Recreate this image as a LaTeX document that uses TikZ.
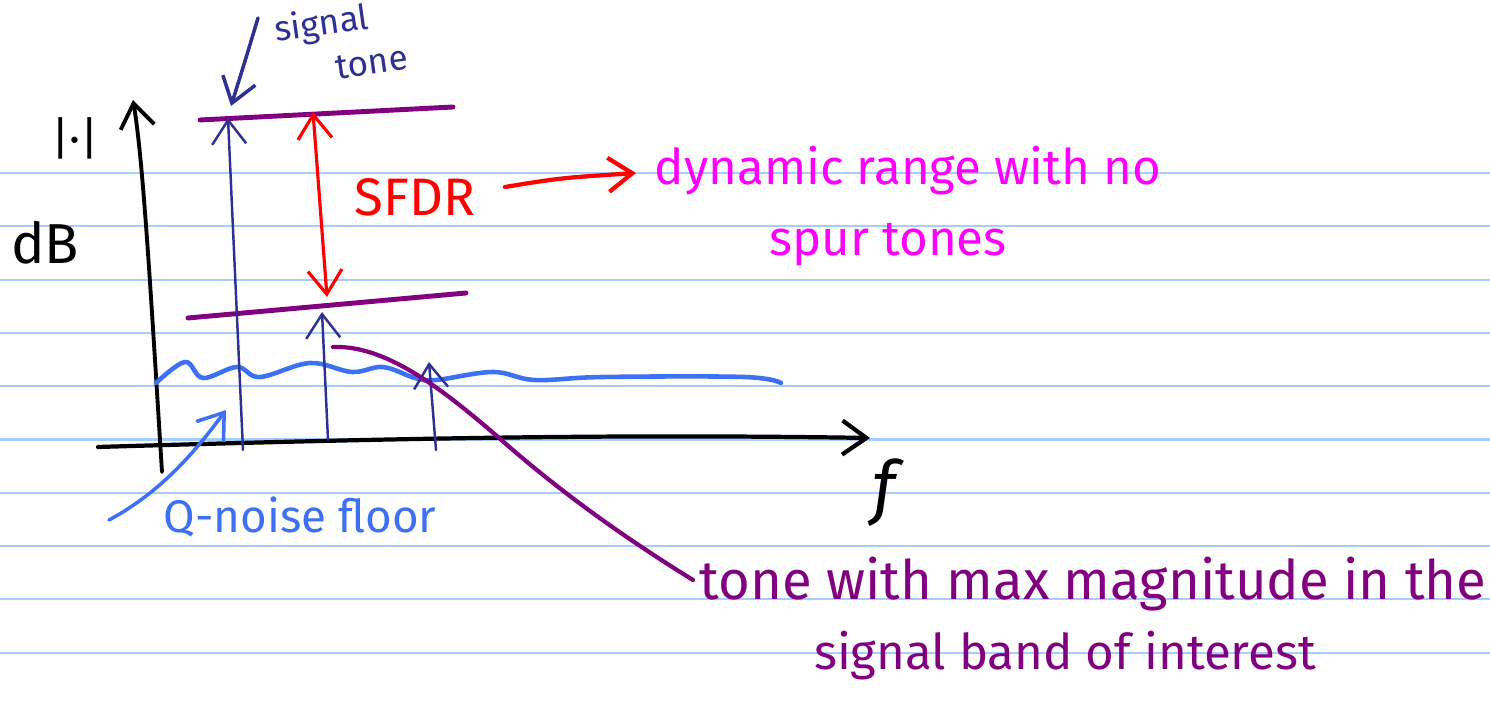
\documentclass[tikz,border=0pt]{standalone}
\usepackage{fontspec}
\setmainfont{Fira Sans}
\usetikzlibrary{arrows.meta}
\definecolor{ruleblue}{RGB}{165,205,255}
\definecolor{navyink}{RGB}{46,48,146}
\definecolor{plum}{RGB}{128,0,128}
\definecolor{noiseblue}{RGB}{60,112,245}
\definecolor{pinkink}{RGB}{255,0,255}

\begin{document}
\begin{tikzpicture}[x=0.01cm,y=-0.01cm,>={Straight Barb[length=2.4mm,width=3.4mm]},
  ink/.style={line cap=round,line join=round},
  hand/.style={inner sep=0pt,anchor=base,font=\fontsize{14}{16}\selectfont}]
  \useasboundingbox (0,0) rectangle (1490,704);
  \foreach \r in {0,...,9}
    \draw[ruleblue,line width=0.6pt] (0,{173+53.3*\r})--(1490,{173+53.3*\r});
  \coordinate (yb) at (162,472);
  \coordinate (yt) at (133,100);
  \coordinate (xl) at (98,447);
  \coordinate (xr) at (870,438);
  \draw[->,ink,line width=1.1pt] (yb) .. controls (150,280) and (143,160) .. (yt);
  \draw[->,ink,line width=1.2pt] (xl) .. controls (400,438) and (620,434) .. (xr);
  \node[hand,font=\fontsize{20}{22}\selectfont\itshape] (flbl) at (884,512) {f};
  \node[hand,font=\fontsize{13}{15}\selectfont] (maglbl) at (75,155) {|·|};
  \node[hand,font=\fontsize{16}{18}\selectfont] (dblbl) at (45,264) {dB};
  \coordinate (topl) at (200,120);
  \coordinate (topr) at (453,107);
  \coordinate (lowl) at (188,318);
  \coordinate (lowr) at (466,293);
  \draw[plum,ink,line width=1.4pt] (topl)--(topr);
  \draw[plum,ink,line width=1.4pt] (lowl)--(lowr);
  \draw[noiseblue,ink,line width=1.3pt] plot[smooth,tension=0.6] coordinates
    {(156,383) (185,362) (203,378) (237,367) (260,377) (310,363) (352,372) (383,367)
     (415,378) (436,380) (493,372) (535,380) (603,377) (744,377) (781,383)};
  \coordinate (s1b) at (243,450); \coordinate (s1t) at (228,118);
  \coordinate (s2b) at (328,440); \coordinate (s2t) at (322,312);
  \coordinate (s3b) at (436,450); \coordinate (s3t) at (429,362);
  \draw[->,navyink,ink,line width=0.7pt] (s1b)--(s1t);
  \draw[->,navyink,ink,line width=0.7pt] (s2b)--(s2t);
  \draw[->,navyink,ink,line width=0.7pt] (s3b)--(s3t);
  \node[hand,navyink,font=\fontsize{10}{13}\selectfont,align=left,anchor=north west,rotate=8]
    (tonelbl) at (272,14) {signal\\\hspace*{5.5mm}tone};
  \coordinate (ptr) at (231,106);
  \draw[->,navyink,ink,line width=1pt] (258,18) .. controls (246,58) .. (ptr);
  \coordinate (rtop) at (313,112);
  \coordinate (rbot) at (327,297);
  \draw[<->,red,ink,line width=0.9pt] (rtop)--(rbot);
  \node[hand,red,font=\fontsize{15}{17}\selectfont] (sfdr) at (415,216) {SFDR};
  \coordinate (sfdrr) at (505,187);
  \coordinate (dynl) at (636,173);
  \draw[->,red,ink,line width=1.2pt] (sfdrr) .. controls (560,178) .. (dynl);
  \node[hand,pinkink] (dyn1) at (908,185) {dynamic range with no};
  \node[hand,pinkink] (dyn2) at (888,256) {spur tones};
  \coordinate (qstart) at (109,520);
  \coordinate (qtip) at (226,410);
  \draw[->,noiseblue,ink,line width=1pt] (qstart) .. controls (165,490) and (200,445) .. (qtip);
  \node[hand,noiseblue,font=\fontsize{13}{15}\selectfont] (qlbl) at (300,533) {Q-noise floor};
  \coordinate (pc0) at (333,347);
  \coordinate (pc1) at (693,580);
  \draw[plum,ink,line width=1.2pt] (pc0) .. controls (385,345) and (440,387) .. (498,437)
    .. controls (560,492) and (625,538) .. (pc1);
  \node[hand,plum,font=\fontsize{15.5}{17}\selectfont] (max1) at (1093,600) {tone with max magnitude in the};
  \node[hand,plum] (max2) at (1065,670) {signal band of interest};
\end{tikzpicture}
\end{document}
